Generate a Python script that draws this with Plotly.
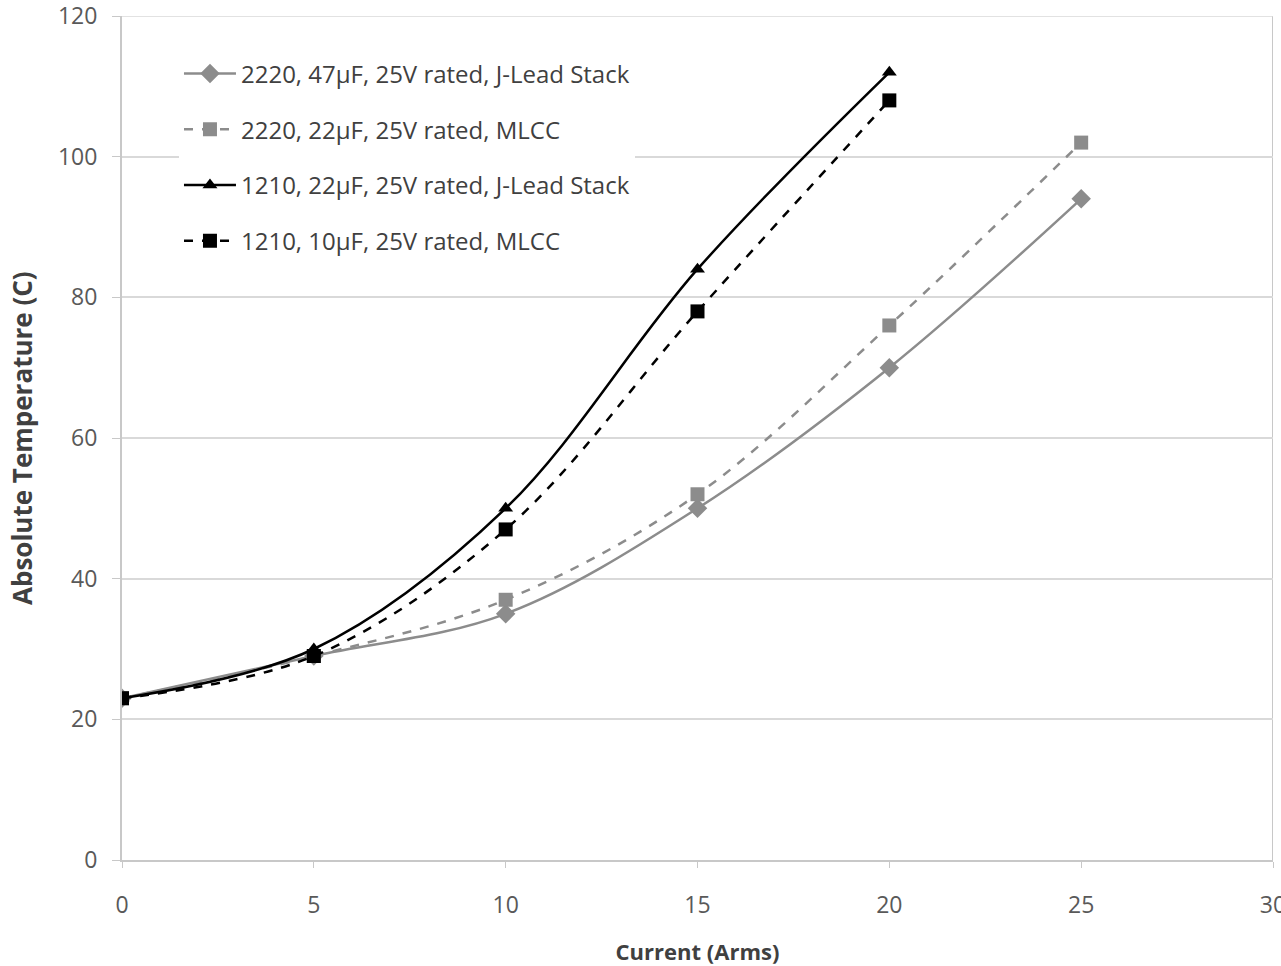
import plotly.graph_objects as go

current = [0, 5, 10, 15, 20, 25]
s1_name = "2220, 47µF, 25V rated, J-Lead Stack"
s1_temp = [23, 29, 35, 50, 70, 94]
s2_name = "2220, 22µF, 25V rated, MLCC"
s2_temp = [23, 29, 37, 52, 76, 102]
s3_name = "1210, 22µF, 25V rated, J-Lead Stack"
s3_temp = [23, 30, 50, 84, 112]
s4_name = "1210, 10µF, 25V rated, MLCC"
s4_temp = [23, 29, 47, 78, 108]
x_ticks = [0, 5, 10, 15, 20, 25, 30]
y_ticks = [0, 20, 40, 60, 80, 100, 120]

gray = "#8c8c8c"
black = "#000000"

fig = go.Figure()
fig.add_trace(go.Scatter(x=current, y=s1_temp, name=s1_name, mode="lines+markers",
                         line=dict(color=gray, width=2.5, shape="spline"),
                         marker=dict(symbol="diamond", size=15, color=gray),
                         legendgroup="a"))
fig.add_trace(go.Scatter(x=current, y=s2_temp, name=s2_name, mode="lines+markers",
                         line=dict(color=gray, width=2.5, dash="dash", shape="spline"),
                         marker=dict(symbol="square", size=14, color=gray),
                         legendgroup="b"))
fig.add_trace(go.Scatter(x=current[:5], y=s3_temp, name=s3_name, mode="lines+markers",
                         line=dict(color=black, width=2.5, shape="spline"),
                         marker=dict(symbol="triangle-up", size=13, color=black),
                         legendgroup="c"))
fig.add_trace(go.Scatter(x=current[:5], y=s4_temp, name=s4_name, mode="lines+markers",
                         line=dict(color=black, width=2.5, dash="dash", shape="spline"),
                         marker=dict(symbol="square", size=14, color=black),
                         legendgroup="d"))

font_family = "Open Sans, Liberation Sans, sans-serif"
fig.update_layout(
    width=1281, height=966,
    margin=dict(l=122, r=8, t=16, b=106, autoexpand=False),
    paper_bgcolor="white", plot_bgcolor="white",
    font=dict(family=font_family, size=23, color="#595959"),
    showlegend=True,
    legend=dict(x=0.0495, y=0.958, xanchor="left", yanchor="top",
                bgcolor="white", borderwidth=0,
                font=dict(size=24, color="#404040"),
                traceorder="grouped", tracegroupgap=21.5,
                itemwidth=52),
    xaxis=dict(range=[0, 30], tickvals=x_ticks,
               showgrid=False, zeroline=False, automargin=False,
               showline=True, linecolor="#c8c8c8", linewidth=2,
               ticks="outside", ticklen=6, tickcolor="#c8c8c8", tickwidth=1,
               ticklabelstandoff=17, ticklabeloverflow="allow",
               tickfont=dict(size=23, color="#595959"),
               title=dict(text="<b>Current (Arms)</b>", standoff=29,
                          font=dict(size=22, color="#404040"))),
    yaxis=dict(range=[0, 120], tickvals=y_ticks,
               showgrid=True, gridcolor="#d9d9d9", gridwidth=1.5,
               zeroline=False, automargin=False,
               showline=True, linecolor="#c8c8c8", linewidth=2,
               ticks="outside", ticklen=8, tickcolor="#c8c8c8",
               ticklabelstandoff=10, ticklabeloverflow="allow",
               tickfont=dict(size=23, color="#595959")),
    annotations=[dict(text="<b>Absolute Temperature (C)</b>", textangle=-90,
                      xref="paper", yref="paper", x=-0.0869, y=0.5,
                      xanchor="center", yanchor="middle", showarrow=False,
                      font=dict(size=26, color="#404040"))],
)
fig.add_shape(type="line", xref="x", yref="paper", x0=30, x1=30, y0=0, y1=1,
              line=dict(color="#c8c8c8", width=2), layer="below")
fig.add_shape(type="line", xref="paper", yref="y", x0=0, x1=1, y0=120, y1=120,
              line=dict(color="#d9d9d9", width=1.5), layer="below")

fig.write_html("out.html", config={"displayModeBar": False},
               post_script="document.body.style.margin='0';")
